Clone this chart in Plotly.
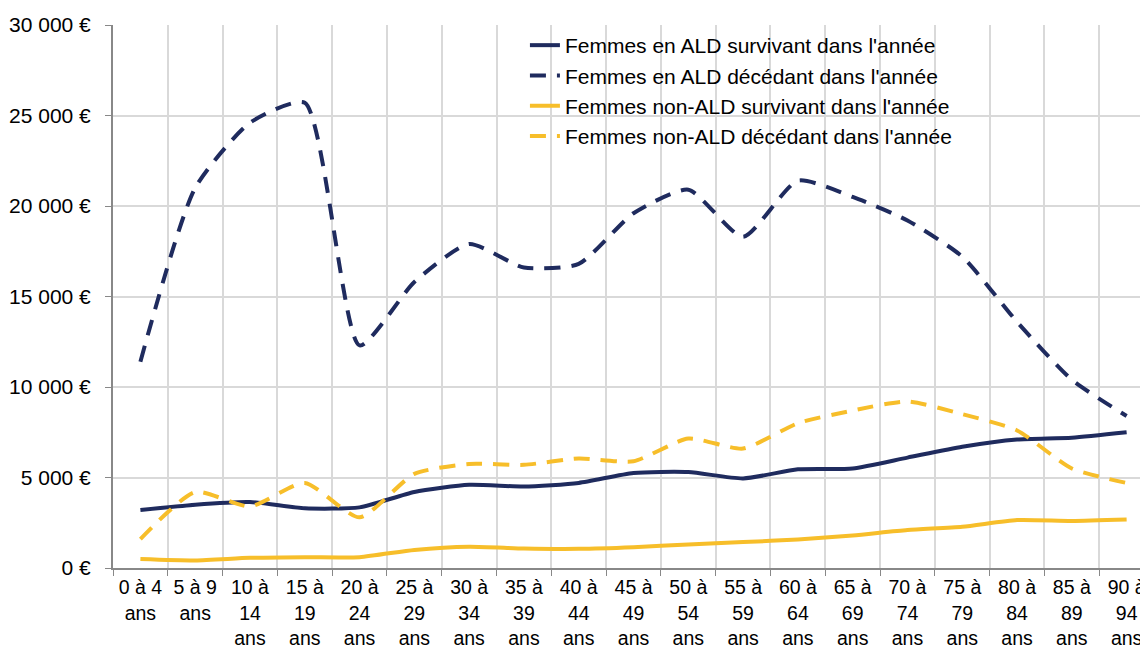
import plotly.graph_objects as go

# age groups
ages = ["0-4", "5-9", "10-14", "15-19", "20-24", "25-29", "30-34", "35-39", "40-44", "45-49",
        "50-54", "55-59", "60-64", "65-69", "70-74", "75-79", "80-84", "85-89", "90-94"]
age_labels = ["0 à 4<br>ans", "5 à 9<br>ans", "10 à<br>14<br>ans", "15 à<br>19<br>ans", "20 à<br>24<br>ans",
              "25 à<br>29<br>ans", "30 à<br>34<br>ans", "35 à<br>39<br>ans", "40 à<br>44<br>ans", "45 à<br>49<br>ans",
              "50 à<br>54<br>ans", "55 à<br>59<br>ans", "60 à<br>64<br>ans", "65 à<br>69<br>ans", "70 à<br>74<br>ans",
              "75 à<br>79<br>ans", "80 à<br>84<br>ans", "85 à<br>89<br>ans", "90 à<br>94<br>ans"]

# dépense moyenne (€)
ald_surv = [3200, 3500, 3650, 3300, 3350, 4200, 4600, 4500, 4700, 5250,
            5300, 4950, 5450, 5500, 6100, 6700, 7100, 7200, 7500]
ald_dec = [11400, 21000, 24600, 25700, 12300, 15800, 17900, 16600, 16800, 19600,
           20900, 18300, 21400, 20500, 19200, 17200, 13600, 10400, 8400]
nonald_surv = [500, 420, 560, 600, 600, 1000, 1180, 1080, 1060, 1150,
               1300, 1430, 1580, 1800, 2100, 2280, 2650, 2600, 2680]
nonald_dec = [1600, 4200, 3400, 4700, 2800, 5200, 5750, 5700, 6050, 5900,
              7150, 6600, 8000, 8700, 9200, 8500, 7600, 5500, 4700]

y_ticks = [0, 5000, 10000, 15000, 20000, 25000, 30000]
y_labels = ["0 €", "5 000 €", "10 000 €", "15 000 €", "20 000 €", "25 000 €", "30 000 €"]

navy = "#1f2b5e"
gold = "#f7be2a"

series = [
    ("Femmes en ALD survivant dans l'année", ald_surv, navy, "solid"),
    ("Femmes en ALD décédant dans l'année", ald_dec, navy, "16px,11px"),
    ("Femmes non-ALD survivant dans l'année", nonald_surv, gold, "solid"),
    ("Femmes non-ALD décédant dans l'année", nonald_dec, gold, "16px,11px"),
]

fig = go.Figure()
for name, vals, col, dash in series:
    fig.add_trace(go.Scatter(x=ages, y=vals, name=name, mode="lines",
                             line=dict(color=col, width=4, dash=dash, shape="spline", smoothing=0.6)))

# page body has an 8px margin, so the figure is 8px smaller than the window
fig.update_layout(
    width=1140, height=643,
    margin=dict(l=105, r=0, t=17, b=83),
    paper_bgcolor="white", plot_bgcolor="white",
    font=dict(family="Liberation Sans, Arial", size=21, color="black"),
    showlegend=True,
    legend=dict(x=0.398, y=1.0, xanchor="left", yanchor="top", bgcolor="rgba(0,0,0,0)",
                font=dict(size=21), tracegroupgap=0),
)
fig.update_xaxes(type="category", tickvals=ages, ticktext=age_labels, tickfont=dict(size=19.5),
                 range=[-0.5, 18.39], tickson="boundaries", showgrid=True, gridcolor="#d9d9d9", gridwidth=2,
                 ticks="outside", ticklen=6, tickcolor="#888888", showline=True, linecolor="#888888", linewidth=2,
                 ticklabelstandoff=1, automargin=False)
fig.update_yaxes(range=[0, 30000], tickvals=y_ticks, ticktext=y_labels, ticklabelstandoff=10,
                 showgrid=True, gridcolor="#d9d9d9", gridwidth=2, zeroline=False,
                 ticks="outside", ticklen=6, tickcolor="#888888", showline=True, linecolor="#888888", linewidth=2)

fig.write_html("out.html")
